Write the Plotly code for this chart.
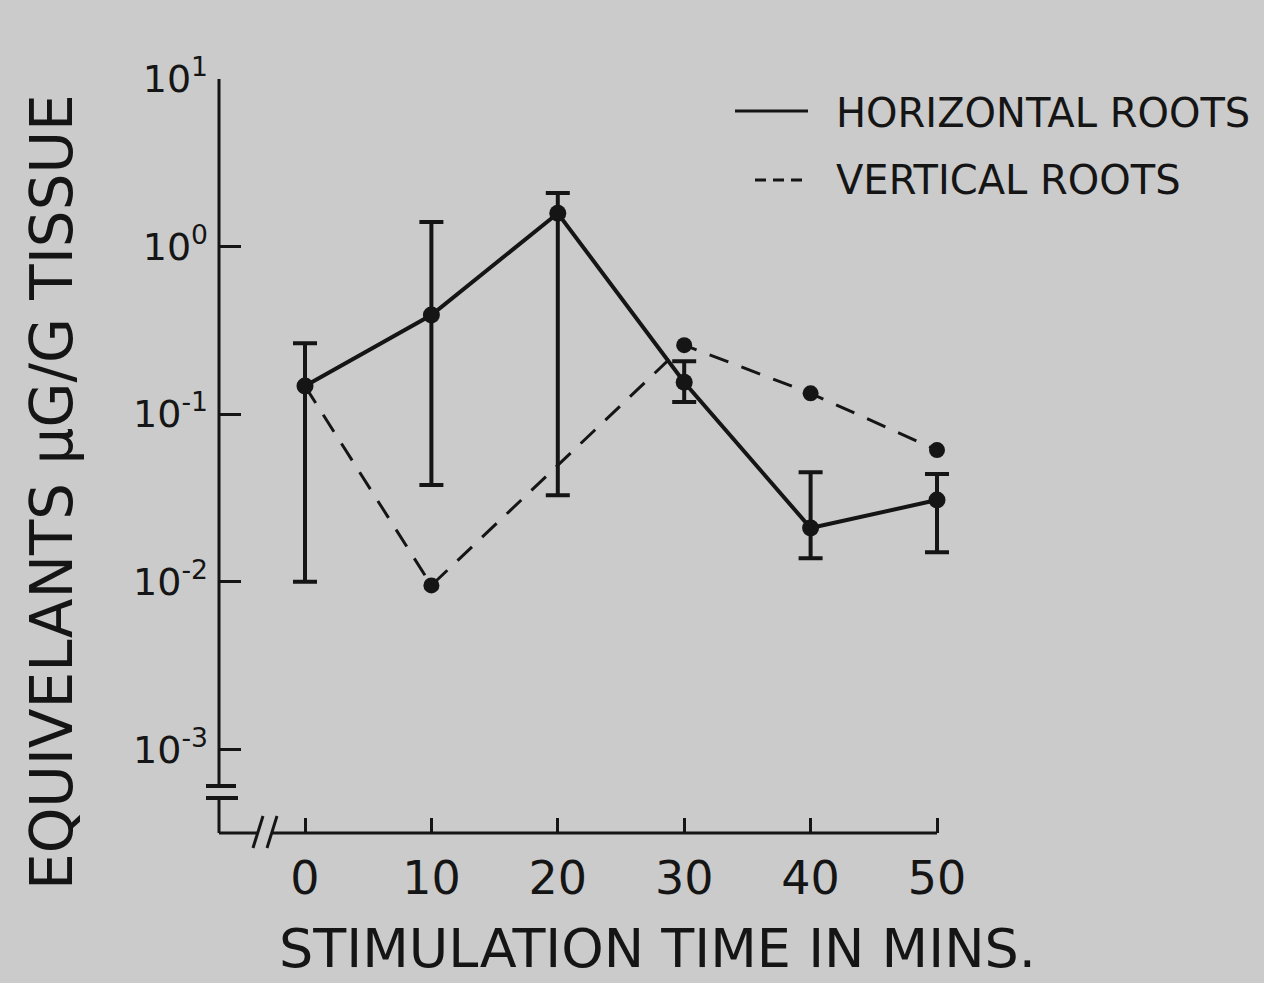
import plotly.graph_objects as go

# ---- data -------------------------------------------------------------
time_min = [0, 10, 20, 30, 40, 50]
horiz_mean = [0.147, 0.39, 1.58, 0.155, 0.0209, 0.0307]
horiz_upper = [0.265, 1.40, 2.09, 0.207, 0.045, 0.0439]
horiz_lower = [0.0100, 0.0377, 0.0328, 0.118, 0.0138, 0.0150]

vert_time = [0, 10, 30, 40, 50]
vert_mean = [0.147, 0.0095, 0.258, 0.133, 0.061]

x_tick_vals = [0, 10, 20, 30, 40, 50]
x_tick_text = ["0", "10", "20", "30", "40", "50"]
y_tick_vals = [10, 1, 0.1, 0.01, 0.001]
y_tick_text = ["10<sup>1</sup>", "10<sup>0</sup>", "10<sup>-1</sup>",
               "10<sup>-2</sup>", "10<sup>-3</sup>"]

legend_labels = ["HORIZONTAL ROOTS", "VERTICAL ROOTS"]
x_title = "STIMULATION TIME IN MINS."
y_title = "EQUIVELANTS \u03bcG/G TISSUE"

# ---- page geometry (pixels) ------------------------------------------
W, H = 1264, 983
L, T, B = 219, 79, 833          # plot area left / top / bottom
X0_PX, X50_PX = 305, 937        # where t = 0 and t = 50 fall
R = 958                         # plot area right (room for the last error cap)
INK = "#151515"
PAPER = "#cbcbcb"
HAND = "'DejaVu Sans', sans-serif"

unit = (X50_PX - X0_PX) / 50.0
x_range = [-(X0_PX - L) / unit, 50 + (R - X50_PX) / unit]


def px(x):
    return (x - L) / (R - L)


def py(y):
    return (B - y) / (B - T)


fig = go.Figure()

fig.add_trace(go.Scatter(
    x=time_min, y=horiz_mean, mode="lines+markers",
    line=dict(color=INK, width=4),
    marker=dict(color=INK, size=17, symbol="circle"),
    error_y=dict(type="data", symmetric=False,
                 array=[u - m for u, m in zip(horiz_upper, horiz_mean)],
                 arrayminus=[m - lo for m, lo in zip(horiz_mean, horiz_lower)],
                 color=INK, thickness=4, width=12),
    showlegend=False, cliponaxis=False,
))

fig.add_trace(go.Scatter(
    x=vert_time, y=vert_mean, mode="lines+markers",
    line=dict(color=INK, width=3, dash="20px,14px"),
    marker=dict(color=INK, size=16, symbol="circle"),
    showlegend=False, cliponaxis=False,
))

shapes = []


def seg(x0, y0, x1, y1, width=3, dash=None):
    line = dict(color=INK, width=width)
    if dash:
        line["dash"] = dash
    shapes.append(dict(type="line", xref="paper", yref="paper",
                       x0=px(x0), y0=py(y0), x1=px(x1), y1=py(y1),
                       line=line, layer="above"))


# hand-drawn axes with breaks
seg(L, T, L, 786)
seg(206, 786, 236, 786, width=4)
seg(206, 798, 238, 798, width=4)
seg(L, 798, L, B)
seg(L, B, 258, B)
seg(263, 816, 253, 848)
seg(277, 816, 267, 848)
seg(272, B, X50_PX, B)

# legend keys
seg(735, 111, 808, 111, width=3)
seg(755, 180, 808, 180, width=3, dash="11px,7px")

annotations = [
    dict(text=legend_labels[0], xref="paper", yref="paper", x=px(834), y=py(113),
         xanchor="left", yanchor="middle", showarrow=False,
         font=dict(family=HAND, size=40, color=INK)),
    dict(text=legend_labels[1], xref="paper", yref="paper", x=px(834), y=py(180),
         xanchor="left", yanchor="middle", showarrow=False,
         font=dict(family=HAND, size=40, color=INK)),
    dict(text=x_title, xref="paper", yref="paper", x=px(657), y=py(948),
         xanchor="center", yanchor="middle", showarrow=False,
         font=dict(family=HAND, size=54, color=INK)),
    dict(text=y_title, xref="paper", yref="paper", x=px(52), y=py(492),
         xanchor="center", yanchor="middle", showarrow=False, textangle=-90,
         font=dict(family=HAND, size=58, color=INK)),
]

fig.update_layout(
    width=W, height=H,
    margin=dict(l=L, r=W - R, t=T, b=H - B, pad=0),
    paper_bgcolor=PAPER, plot_bgcolor=PAPER,
    shapes=shapes, annotations=annotations,
    xaxis=dict(range=x_range, showgrid=False, zeroline=False, showline=False,
               tickmode="array", tickvals=x_tick_vals, ticktext=x_tick_text,
               ticks="inside", ticklen=15, tickwidth=2.5, tickcolor=INK,
               tickfont=dict(family=HAND, size=46, color=INK),
               ticklabelstandoff=14),
    yaxis=dict(type="log", range=[-3.5, 1], showgrid=False, zeroline=False,
               showline=False, tickmode="array", tickvals=y_tick_vals,
               ticktext=y_tick_text, ticks="inside", ticklen=22, tickwidth=3,
               tickcolor=INK, tickfont=dict(family=HAND, size=38, color=INK),
               ticklabelstandoff=10),
)

fig.write_html("out.html")
